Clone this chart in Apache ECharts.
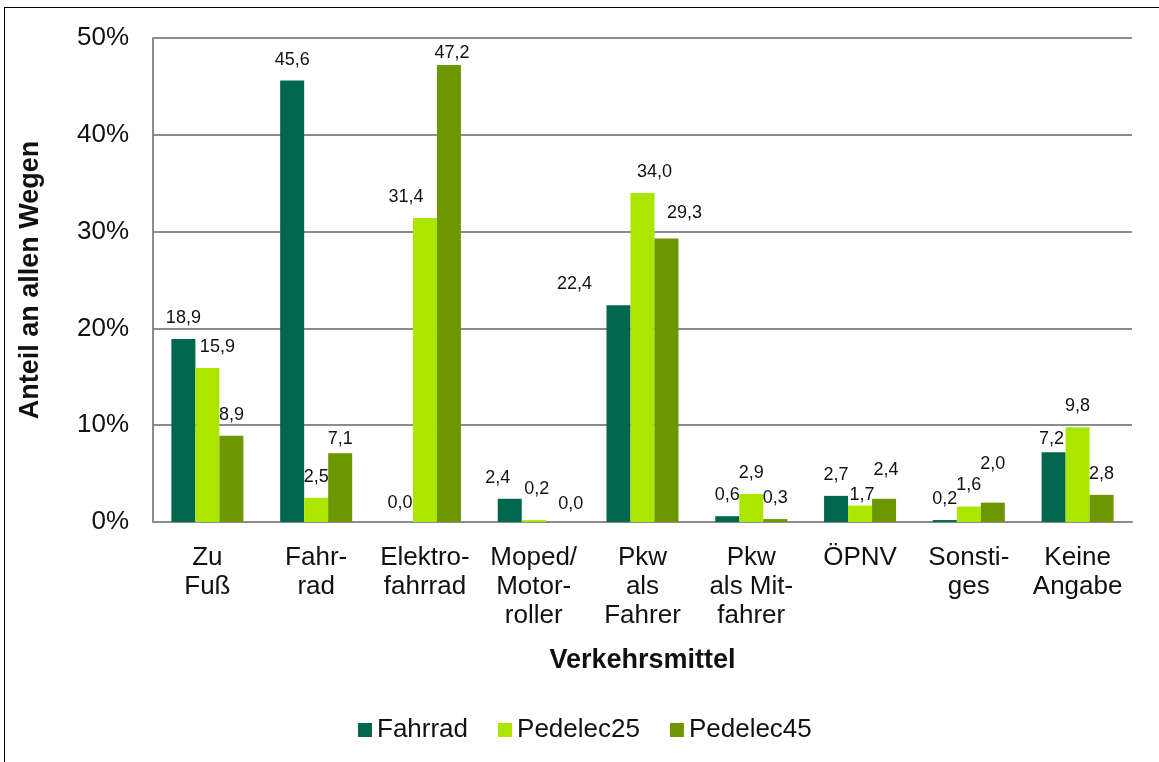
<!DOCTYPE html>
<html>
<head>
<meta charset="utf-8">
<script src="https://cdn.jsdelivr.net/npm/echarts@6/dist/echarts.min.js"></script>
<style>
html,body{margin:0;padding:0;background:#fff;}
#chart{width:1159px;height:762px;position:relative;}
#frame{position:absolute;left:4px;top:7px;right:-10px;bottom:-10px;border-left:1.5px solid #000;border-top:1.5px solid #000;pointer-events:none;}
</style>
</head>
<body>
<div id="chart"></div>
<div id="frame"></div>
<script>
const categories = ['Zu\nFuß', 'Fahr-\nrad', 'Elektro-\nfahrrad', 'Moped/\nMotor-\nroller', 'Pkw\nals\nFahrer', 'Pkw\nals Mit-\nfahrer', 'ÖPNV', 'Sonsti-\nges', 'Keine\nAngabe'];
const seriesNames = ['Fahrrad', 'Pedelec25', 'Pedelec45'];
const fahrrad   = [18.9, 45.6, 0.0, 2.4, 22.4, 0.6, 2.7, 0.2, 7.2];
const pedelec25 = [15.9, 2.5, 31.4, 0.2, 34.0, 2.9, 1.7, 1.6, 9.8];
const pedelec45 = [8.9, 7.1, 47.2, 0.0, 29.3, 0.3, 2.4, 2.0, 2.8];
const yTicks = [0, 10, 20, 30, 40, 50];

const colors = ['#00664E', '#AAE600', '#6E9600'];
// label nudges (layout only): key "series,index" -> [dx, dy]
const labelNudge = {
  '1,0': [10, 0],
  '2,1': [0, 7],
  '0,2': [-1, 2],
  '2,2': [3, 9],
  '1,2': [-19, 0],
  '0,3': [-12, 0],
  '1,3': [3, -10],
  '2,3': [13, 3],
  '0,4': [-44, 0],
  '1,4': [12, 0],
  '2,4': [18, -4],
  '1,6': [2, 10],
  '2,6': [2, -8],
  '2,7': [0, -18],
  '0,8': [-2, 8]
};

const fmt = v => v.toFixed(1).replace('.', ',');
const FONT = 'Liberation Sans, Arial, sans-serif';

function buildData(arr, si) {
  return arr.map((v, i) => {
    const n = labelNudge[si + ',' + i];
    return n ? { value: v, label: { offset: n } } : { value: v };
  });
}

const allSeries = [fahrrad, pedelec25, pedelec45].map((arr, si) => ({
  name: seriesNames[si],
  type: 'bar',
  barWidth: 24,
  barGap: '0%',
  itemStyle: { color: colors[si] },
  data: buildData(arr, si),
  label: {
    show: true,
    position: 'top',
    distance: 12,
    fontFamily: FONT,
    fontSize: 18,
    color: '#111',
    formatter: p => fmt(p.value)
  }
}));

const chart = echarts.init(document.getElementById('chart'), null, { renderer: 'canvas' });
chart.setOption({
  animation: false,
  backgroundColor: '#fff',
  textStyle: { fontFamily: FONT },
  grid: { left: 153, right: 27, top: 38, bottom: 240, containLabel: false },
  legend: {
    data: seriesNames,
    left: 353,
    top: 712,
    icon: 'rect',
    itemWidth: 14,
    itemHeight: 14,
    itemGap: 30,
    textStyle: { fontFamily: FONT, fontSize: 26, color: '#111' }
  },
  xAxis: {
    type: 'category',
    data: categories,
    name: 'Verkehrsmittel',
    nameLocation: 'middle',
    nameGap: 125,
    nameTextStyle: { fontFamily: FONT, fontSize: 27, fontWeight: 'bold', color: '#111' },
    axisLine: { lineStyle: { color: '#8c8c8c', width: 2 } },
    axisTick: { show: false },
    axisLabel: { fontFamily: FONT, fontSize: 26, color: '#111', lineHeight: 29, margin: 21, interval: 0 }
  },
  yAxis: {
    type: 'value',
    min: yTicks[0],
    max: yTicks[yTicks.length - 1],
    interval: 10,
    name: 'Anteil an allen Wegen',
    nameLocation: 'middle',
    nameGap: 109,
    nameTextStyle: { fontFamily: FONT, fontSize: 27, fontWeight: 'bold', color: '#111' },
    axisLine: { show: true, lineStyle: { color: '#8c8c8c', width: 2 } },
    axisTick: { show: false },
    splitLine: { lineStyle: { color: '#8c8c8c', width: 2 } },
    axisLabel: { fontFamily: FONT, fontSize: 26, color: '#111', margin: 24, formatter: v => v + '%' }
  },
  series: allSeries
});
</script>
</body>
</html>
